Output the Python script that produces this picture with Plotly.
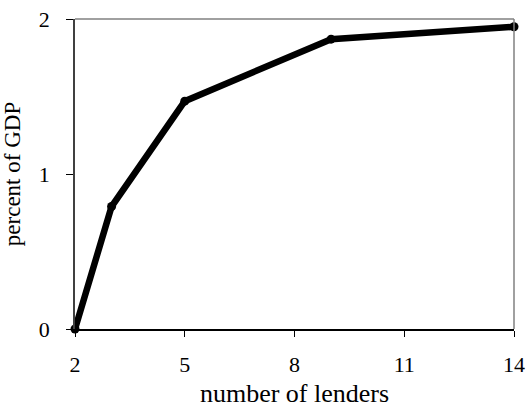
import plotly.graph_objects as go

# lenders vs percent of GDP
lenders = [2, 3, 5, 9, 14]
pct_gdp = [0.0, 0.79, 1.47, 1.87, 1.95]
x_ticks = [2, 5, 8, 11, 14]
y_ticks = [0, 1, 2]

font = dict(family="Liberation Serif, Times New Roman, serif", size=22, color="black")

fig = go.Figure()
fig.add_trace(go.Scatter(
    x=lenders, y=pct_gdp,
    mode="lines+markers",
    line=dict(color="black", width=6.5),
    marker=dict(color="black", size=9),
    cliponaxis=False,
    showlegend=False,
))

fig.update_layout(
    width=526, height=415,
    margin=dict(l=75, r=12, t=19, b=86),
    paper_bgcolor="white", plot_bgcolor="white",
    font=font,
    xaxis=dict(
        range=[2, 14], tickvals=x_ticks, showgrid=False, zeroline=False,
        showline=True, linecolor="black", linewidth=1.5,
        ticks="outside", ticklen=6, tickcolor="black", ticklabelstandoff=9,
        automargin=False,
        title=dict(text="number of lenders", standoff=8),
    ),
    yaxis=dict(
        range=[0, 2], tickvals=y_ticks, showgrid=False, zeroline=False,
        showline=True, linecolor="#404040", linewidth=1.5,
        ticks="outside", ticklen=7, tickcolor="black", ticklabelstandoff=12,
        automargin=False,
        title=dict(text="percent of GDP", font=dict(size=23), standoff=22),
    ),
    shapes=[
        dict(type="line", xref="x domain", yref="y domain", x0=0, x1=1, y0=1, y1=1,
             line=dict(color="#808080", width=1.5)),
        dict(type="line", xref="x domain", yref="y domain", x0=1, x1=1, y0=0, y1=1,
             line=dict(color="#808080", width=1.5)),
    ],
)

# drop the page's default 8px body margin so the figure sits at the corner
fig.write_html("out.html", config={"displayModeBar": False},
               post_script="document.body.style.margin = '0';")
